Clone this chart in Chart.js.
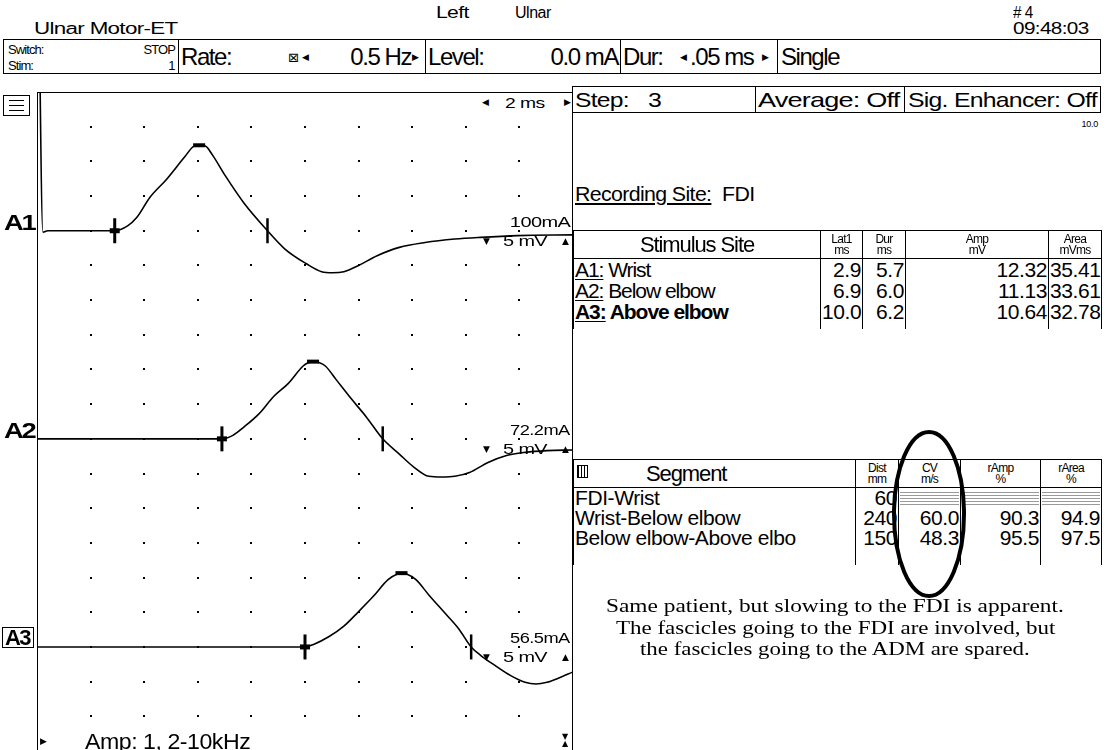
<!DOCTYPE html>
<html>
<head>
<meta charset="utf-8">
<title>Ulnar Motor-ET</title>
<script src="https://cdn.jsdelivr.net/npm/chart.js@4.4.1/dist/chart.umd.min.js"></script>
<style>
  html, body { margin: 0; padding: 0; background: #fff; }
  body { width: 1110px; height: 750px; position: relative; overflow: hidden;
         font-family: "Liberation Sans", Arial, sans-serif; color: #000; }
  .t { position: absolute; white-space: nowrap; line-height: 1; letter-spacing: -0.03em; }
  .box { position: absolute; border: 1px solid #000; box-sizing: border-box; }
  .vl { position: absolute; width: 1px; background: #000; }
  .hl { position: absolute; height: 1px; background: #000; }
  .tri { font-family: "DejaVu Sans", sans-serif; font-size: 9px; letter-spacing: 0; }
  table.grid { position: absolute; border-collapse: collapse; table-layout: fixed;
               font-size: 21px; letter-spacing: -0.02em; }
  table.grid td { border: 1px solid #000; padding: 0 1px; line-height: 19px; white-space: nowrap; overflow: hidden; }
  table.grid td.num { text-align: right; }
  table.grid td.unit { font-size: 12px; text-align: center; line-height: 11px; letter-spacing: -0.06em; }
  table.grid tr.rows td { border-top: none; border-bottom: none; }
  .na { height: 16px; margin-top: 1px; background: repeating-linear-gradient(#fff 0 2px, #9a9a9a 2px 3px); }
  #trace { position: absolute; left: 37px; top: 92px; }
  .lbl { position: absolute; font-weight: bold; font-size: 22px; letter-spacing: -0.08em; line-height: 1; }
  .note { position: absolute; white-space: nowrap; line-height: 1;
          font-family: "Liberation Serif", "Times New Roman", serif; font-size: 18px; }
</style>
</head>
<body>

<!-- header -->
<div class="t" style="left:436px;top:5px;font-size:16px" data-fit="33">Left</div>
<div class="t" style="left:515px;top:5px;font-size:16px" data-fit="36">Ulnar</div>
<div class="t" style="left:1013px;top:5px;font-size:16px" data-fit="20">#&nbsp;4</div>
<div class="t" style="left:34px;top:21px;font-size:16px" data-fit="144">Ulnar Motor-ET</div>
<div class="t" style="left:1013px;top:21px;font-size:16px" data-fit="75">09:48:03</div>

<!-- stimulator bar -->
<div class="box" style="left:3px;top:39px;width:1098px;height:35px"></div>
<div class="vl" style="left:178px;top:39px;height:35px"></div>
<div class="vl" style="left:425px;top:39px;height:35px"></div>
<div class="vl" style="left:620px;top:39px;height:35px"></div>
<div class="vl" style="left:777px;top:39px;height:35px"></div>
<div class="t" style="left:8px;top:43px;font-size:13px;letter-spacing:-0.07em">Switch:</div>
<div class="t" style="right:935px;top:43px;font-size:13px;letter-spacing:-0.07em">STOP</div>
<div class="t" style="left:8px;top:59px;font-size:13px;letter-spacing:-0.07em">Stim:</div>
<div class="t" style="right:935px;top:59px;font-size:13px">1</div>
<div class="t" style="left:181px;top:45px;font-size:24px;letter-spacing:-0.06em">Rate:</div>
<div class="t" style="left:288px;top:51px;font-size:13px;font-family:'DejaVu Sans'">&#x22A0;</div>
<div class="t tri" style="left:302px;top:53px">&#x25C0;</div>
<div class="t" style="right:699px;top:45px;font-size:24px;letter-spacing:-0.06em">0.5 Hz</div>
<div class="t tri" style="left:412px;top:53px">&#x25B6;</div>
<div class="t" style="left:428px;top:45px;font-size:24px;letter-spacing:-0.06em">Level:</div>
<div class="t" style="right:492px;top:45px;font-size:24px;letter-spacing:-0.06em">0.0 mA</div>
<div class="t" style="left:623px;top:45px;font-size:24px;letter-spacing:-0.06em">Dur:</div>
<div class="t tri" style="left:680px;top:53px">&#x25C0;</div>
<div class="t" style="left:690px;top:45px;font-size:24px;letter-spacing:-0.06em">.05 ms</div>
<div class="t tri" style="left:762px;top:53px">&#x25B6;</div>
<div class="t" style="left:781px;top:45px;font-size:24px;letter-spacing:-0.06em">Single</div>

<!-- step row -->
<div class="box" style="left:572px;top:86px;width:529px;height:27px"></div>
<div class="vl" style="left:755px;top:86px;height:27px"></div>
<div class="vl" style="left:904px;top:86px;height:27px"></div>
<div class="t" style="left:575px;top:89px;font-size:21px" data-fit="54">Step:</div>
<div class="t" style="left:648px;top:89px;font-size:21px" data-fit="13">3</div>
<div class="t" style="left:758px;top:89px;font-size:21px" data-fit="142">Average: Off</div>
<div class="t" style="left:908px;top:89px;font-size:21px" data-fit="189">Sig. Enhancer: Off</div>
<div class="t" style="right:12px;top:120px;font-size:9px">10.0</div>

<!-- waveform panel frame -->
<div class="hl" style="left:37px;top:92px;width:535px"></div>
<div class="vl" style="left:37px;top:92px;height:658px"></div>
<div class="vl" style="left:572px;top:86px;height:664px"></div>
<div class="box" style="left:3px;top:95px;width:27px;height:21px"></div>
<div class="hl" style="left:9px;top:100px;width:15px"></div>
<div class="hl" style="left:9px;top:105px;width:15px"></div>
<div class="hl" style="left:9px;top:110px;width:15px"></div>
<div class="t tri" style="left:482px;top:98px">&#x25C0;</div>
<div class="t" style="left:505px;top:96px;font-size:14px" data-fit="40">2 ms</div>
<div class="t tri" style="left:564px;top:98px">&#x25B6;</div>

<canvas id="trace" width="536" height="659"></canvas>

<div id="labels"></div>

<div class="t tri" style="left:40px;top:737px">&#x25B6;</div>
<div class="t" style="left:85px;top:731px;font-size:22px;letter-spacing:-0.02em" data-fit="165">Amp: 1, 2-10kHz</div>
<div class="t" style="left:562px;top:733px;font-size:8px;line-height:7px;font-family:'DejaVu Sans'">&#x25BC;<br>&#x25B2;</div>

<!-- right panel -->
<div class="t" style="left:575px;top:183px;font-size:21px" data-fit="180"><span style="text-decoration:underline">Recording Site:</span>&nbsp; FDI</div>
<table class="grid" id="siteTable" style="left:573px;top:230px;width:528px"></table>
<table class="grid" id="segTable" style="left:573px;top:459px;width:528px"></table>

<svg style="position:absolute;left:0;top:0" width="1110" height="750">
  <ellipse cx="929" cy="514" rx="35" ry="82" fill="none" stroke="#000" stroke-width="4"/>
</svg>

<div class="note" style="left:606px;top:597px" data-fit="458">Same patient, but slowing to the FDI is apparent.</div>
<div class="note" style="left:616px;top:619px" data-fit="439">The fascicles going to the FDI are involved, but</div>
<div class="note" style="left:640px;top:640px" data-fit="390">the fascicles going to the ADM are spared.</div>

<script>
// sweep 2 ms/div, sensitivity 5 mV/div
const msPerDiv = 2;
const mvPerDiv = 5;
const sweepDivs = 10;
const screenDivs = 19;

// trace baselines, in divisions below the top of the screen
const traceRows = [4, 10, 16];
const traceNames = ["A1", "A2", "A3"];
const stimCurrents = ["100mA", "72.2mA", "56.5mA"];

const timeA1 = [0.05, 0.22, 0.4, 2.9, 3.38, 3.72, 4.21, 4.83, 5.52, 5.86, 6.05, 6.28, 6.55, 7.03, 7.72, 8.6,
  9.24, 10.07, 10.62, 11.03, 11.45, 12.0, 12.69, 13.52, 14.48, 15.59, 16.55, 17.93, 20.0];
const voltA1 = [40, -0.2, 0, 0, 0.7, 1.9, 4.8, 7.4, 10.7, 12.2, 12.32, 12.2, 10.9, 7.9, 4.0, 0,
  -2.6, -4.8, -5.9, -6.05, -5.9, -5.0, -3.6, -2.4, -1.7, -1.2, -0.95, -0.7, -0.6];

const timeA2 = [0, 6.9, 7.31, 7.72, 8.28, 8.83, 9.38, 9.93, 10.14, 10.3, 10.51, 10.76, 11.17, 11.72, 12.28, 12.9,
  13.52, 14.07, 14.62, 15.1, 15.59, 16.14, 16.83, 17.52, 18.21, 19.03, 20.0];
const voltA2 = [0, 0, 0.5, 1.7, 3.6, 6.1, 8.0, 10.5, 11.0, 11.13, 11.0, 10.5, 8.5, 5.8, 3.2, 0,
  -2.2, -4.1, -5.4, -5.5, -5.4, -4.85, -3.4, -2.4, -1.95, -1.7, -1.6];

const timeA3 = [0, 10.0, 10.34, 10.9, 11.45, 12.0, 12.55, 13.1, 13.45, 13.6, 13.79, 14.14, 14.62, 15.17, 15.72, 16.2,
  16.55, 17.1, 17.66, 18.21, 18.62, 19.03, 19.45, 20.0];
const voltA3 = [0, 0, 0.4, 1.5, 3.0, 5.1, 7.3, 9.7, 10.5, 10.64, 10.5, 9.7, 7.5, 5.1, 2.7, 0,
  -1.2, -2.7, -4.1, -5.1, -5.35, -5.1, -4.5, -3.6];

const stimSites = ["A1: Wrist", "A2: Below elbow", "A3: Above elbow"];
const lat1 = [2.9, 6.9, 10.0];
const dur = [5.7, 6.0, 6.2];
const amp = [12.32, 11.13, 10.64];
const area = [35.41, 33.61, 32.78];
const peakLat = [6.05, 10.3, 13.6];

const segments = ["FDI-Wrist", "Wrist-Below elbow", "Below elbow-Above elbo"];
const dist = [60, 240, 150];
const cv = [null, 60.0, 48.3];
const rAmp = [null, 90.3, 95.5];
const rArea = [null, 94.9, 97.5];

const traces = [[timeA1, voltA1], [timeA2, voltA2], [timeA3, voltA3]];
const offsetOf = (i) => -traceRows[i] * mvPerDiv;

function markerSet(points, opts) {
  return Object.assign({
    data: points,
    showLine: false,
    pointStyle: "line",
    borderColor: "#000",
    pointBorderColor: "#000",
    pointHoverRadius: 0,
  }, opts);
}

const datasets = traces.map(([t, v], i) => ({
  data: t.map((x, k) => ({ x, y: v[k] + offsetOf(i) })),
  borderColor: "#000",
  borderWidth: 1.6,
  pointRadius: 0,
  cubicInterpolationMode: "monotone",
}));

const onsets = lat1.map((x, i) => ({ x, y: offsetOf(i) }));
const ends = lat1.map((x, i) => ({ x: x + dur[i], y: offsetOf(i) }));
const peaks = peakLat.map((x, i) => ({ x, y: amp[i] + offsetOf(i) }));

datasets.push(
  markerSet(onsets, { pointRadius: 12.5, pointBorderWidth: 3, pointRotation: 90 }),
  markerSet(onsets, { pointRadius: 5, pointBorderWidth: 5, pointRotation: 0 }),
  markerSet(ends, { pointRadius: 12.5, pointBorderWidth: 2.5, pointRotation: 90 }),
  markerSet(peaks, { pointRadius: 6, pointBorderWidth: 4, pointRotation: 0 })
);

// dotted screen graticule at every division intersection
const dotGrid = {
  id: "dotGrid",
  beforeDatasetsDraw(chart) {
    const { ctx, scales } = chart;
    ctx.save();
    ctx.fillStyle = "#000";
    for (let i = 1; i < sweepDivs; i++) {
      const px = Math.round(scales.x.getPixelForValue(i * msPerDiv));
      for (let j = 1; j < screenDivs; j++) {
        const py = Math.round(scales.y.getPixelForValue(-j * mvPerDiv));
        ctx.fillRect(px - 1, py - 1, 2, 2);
      }
    }
    ctx.restore();
  },
};

const chart = new Chart(document.getElementById("trace"), {
  type: "line",
  data: { datasets },
  options: {
    responsive: false,
    animation: false,
    layout: { padding: 0, autoPadding: false },
    plugins: { legend: { display: false }, tooltip: { enabled: false } },
    scales: {
      x: { type: "linear", min: 0, max: sweepDivs * msPerDiv, display: false },
      y: { type: "linear", min: -screenDivs * mvPerDiv, max: 0, display: false },
    },
  },
  plugins: [dotGrid],
});

// trace labels placed from the chart's own y scale
const labelsHost = document.getElementById("labels");
const top0 = 92;
traceNames.forEach((name, i) => {
  const y = top0 + chart.scales.y.getPixelForValue(offsetOf(i));
  const lab = document.createElement("div");
  lab.className = "lbl";
  lab.textContent = name;
  if (i === 2) {
    lab.style.cssText = `left:2px;top:${y - 20}px;border:1px solid #000;padding:0 3px 0 2px;height:21px;box-sizing:border-box;line-height:20px;`;
  } else {
    lab.style.cssText = `left:4px;top:${y - 19}px;`;
    lab.dataset.fit = "31";
  }
  labelsHost.appendChild(lab);

  const cur = document.createElement("div");
  cur.className = "t";
  cur.style.cssText = `right:540px;top:${y - 16}px;font-size:14px;`;
  cur.dataset.fit = "60";
  cur.dataset.origin = "right";
  cur.textContent = stimCurrents[i];
  labelsHost.appendChild(cur);

  const down = document.createElement("div");
  down.className = "t tri";
  down.style.cssText = `left:483px;top:${y + 6}px;`;
  down.innerHTML = "&#x25BC;";
  labelsHost.appendChild(down);

  const sens = document.createElement("div");
  sens.className = "t";
  sens.style.cssText = `left:503px;top:${y + 3}px;font-size:14px;`;
  sens.dataset.fit = "44";
  sens.textContent = `${mvPerDiv} mV`;
  labelsHost.appendChild(sens);

  const up = document.createElement("div");
  up.className = "t tri";
  up.style.cssText = `left:562px;top:${y + 6}px;`;
  up.innerHTML = "&#x25B2;";
  labelsHost.appendChild(up);
});

function fmt(v, d) {
  return v === null ? '<div class="na"></div>' : v.toFixed(d);
}

function buildTable(id, widths, head, rowHeights, rows, padRow) {
  const table = document.getElementById(id);
  const cg = document.createElement("colgroup");
  widths.forEach((w) => {
    const c = document.createElement("col");
    c.style.width = w + "px";
    cg.appendChild(c);
  });
  table.appendChild(cg);
  const hr = document.createElement("tr");
  hr.style.height = rowHeights[0] + "px";
  hr.innerHTML = head;
  table.appendChild(hr);
  rows.forEach((cells) => {
    const tr = document.createElement("tr");
    tr.className = "rows";
    tr.style.height = rowHeights[1] + "px";
    tr.innerHTML = cells;
    table.appendChild(tr);
  });
  if (padRow) {
    const tr = document.createElement("tr");
    tr.className = "rows";
    tr.style.height = padRow + "px";
    tr.innerHTML = widths.map(() => "<td></td>").join("");
    table.appendChild(tr);
  }
}

const siteHead =
  '<td style="text-align:center;font-size:22px;letter-spacing:-0.05em">Stimulus Site</td>' +
  '<td class="unit">Lat1<br>ms</td><td class="unit">Dur<br>ms</td>' +
  '<td class="unit">Amp<br>mV</td><td class="unit">Area<br>mVms</td>';
const siteRows = stimSites.map((s, i) => {
  const [pre, rest] = [s.slice(0, 3), s.slice(3)];
  const weight = i === 2 ? "bold" : "normal";
  return `<td style="font-weight:${weight};letter-spacing:-0.05em"><span style="text-decoration:underline">${pre}</span>${rest}</td>` +
    `<td class="num">${fmt(lat1[i], 1)}</td><td class="num">${fmt(dur[i], 1)}</td>` +
    `<td class="num">${fmt(amp[i], 2)}</td><td class="num">${fmt(area[i], 2)}</td>`;
});
buildTable("siteTable", [247, 42, 43, 143, 53], siteHead, [28, 21], siteRows, 7);

const segHead =
  '<td style="position:relative;font-size:22px;padding-left:72px;letter-spacing:-0.05em"><span style="position:absolute;left:3px;top:5px;width:11px;height:13px;' +
  'border:1px solid #000;box-sizing:border-box;background:repeating-linear-gradient(90deg,#000 0 1px,#fff 1px 3px)"></span>Segment</td>' +
  '<td class="unit">Dist<br>mm</td><td class="unit">CV<br>m/s</td>' +
  '<td class="unit">rAmp<br>%</td><td class="unit">rArea<br>%</td>';
const segRows = segments.map((s, i) =>
  `<td>${s}</td><td class="num">${dist[i]}</td><td class="num">${fmt(cv[i], 1)}</td>` +
  `<td class="num">${fmt(rAmp[i], 1)}</td><td class="num">${fmt(rArea[i], 1)}</td>`
);
buildTable("segTable", [282, 43, 62, 80, 61], segHead, [28, 20], segRows, 17);

// stretch texts horizontally to the widths they take on the reference screen
document.querySelectorAll("[data-fit]").forEach((el) => {
  const w = el.offsetWidth;
  if (!w) return;
  el.style.transform = `scaleX(${(Number(el.dataset.fit) / w).toFixed(3)})`;
  el.style.transformOrigin = el.dataset.origin || "left";
});
</script>
</body>
</html>
